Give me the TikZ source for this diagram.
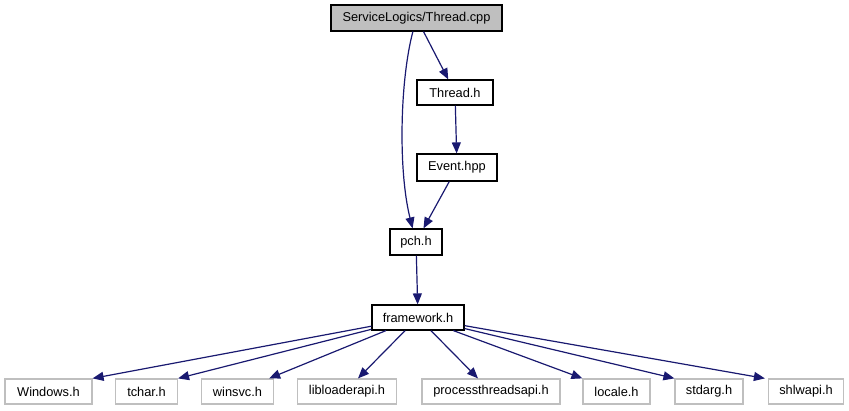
\documentclass[tikz,border=0pt]{standalone}
\usepackage{fontspec}
\setmainfont{Liberation Sans}
\usetikzlibrary{arrows.meta, positioning}
\definecolor{kante}{HTML}{191970}
\definecolor{grau}{HTML}{BFBFBF}
\tikzset{
  datei/.style={draw, line width=1.2pt, inner sep=0pt, minimum height=25pt, font=\fontsize{12.8}{14}\selectfont},
  start/.style={datei, fill=grau},
  fremd/.style={datei, draw=grau},
  pfeil/.style={-{Triangle[length=11pt, width=9pt]}, draw=kante, line width=1.2pt},
}

\begin{document}
\begin{tikzpicture}[x=1pt, y=-1pt]
    \useasboundingbox (0,0) rectangle (849,411);
    \node[start, minimum width=171pt, minimum height=26pt] (cpp) at (416.5,18) {ServiceLogics/Thread.cpp};
    \node[datei, minimum width=76pt] (thread) at (455,92.5) {Thread.h};
    \node[datei, minimum width=80pt, minimum height=27pt] (event) at (457,167.5) {Event.hpp};
    \node[datei, minimum width=52pt, minimum height=26pt] (pch) at (416,242) {pch.h};
    \node[datei, minimum width=92pt] (fw) at (418,317.5) {framework.h};
    % system headers
    \node[fremd, minimum width=87pt] (windows) at (48.5,391.5) {Windows.h};
    \node[fremd, minimum width=62pt] (tchar) at (146.5,391.5) {tchar.h};
    \node[fremd, minimum width=72pt] (winsvc) at (237.5,391.5) {winsvc.h};
    \node[fremd, minimum width=99pt] (libloader) at (347,391.5) {libloaderapi.h};
    \node[fremd, minimum width=138pt] (procthread) at (491,391.5) {processthreadsapi.h};
    \node[fremd, minimum width=67pt] (locale) at (616.5,391.5) {locale.h};
    \node[fremd, minimum width=68pt] (stdarg) at (709,391.5) {stdarg.h};
    \node[fremd, minimum width=75pt] (shlwapi) at (806,391.5) {shlwapi.h};
    \draw[pfeil] (cpp) .. controls (400,80) and (398,170) .. (pch);
    \draw[pfeil] (cpp) -- (thread);
    \draw[pfeil] (thread) -- (event);
    \draw[pfeil] (event) -- (pch);
    \draw[pfeil] (pch) -- (fw);
    \draw[pfeil] (fw) -- (windows.north east);
    \draw[pfeil] (fw) -- (tchar.north east);
    \draw[pfeil] (fw) -- ([xshift=-5pt]winsvc.north east);
    \draw[pfeil] (fw) -- ([xshift=11pt]libloader.north);
    \draw[pfeil] (fw) -- ([xshift=-13pt]procthread.north);
    \draw[pfeil] (fw) -- (locale.north west);
    \draw[pfeil] (fw) -- (stdarg.north west);
    \draw[pfeil] (fw) -- ([xshift=-3pt]shlwapi.north west);
  \end{tikzpicture}
\end{document}
